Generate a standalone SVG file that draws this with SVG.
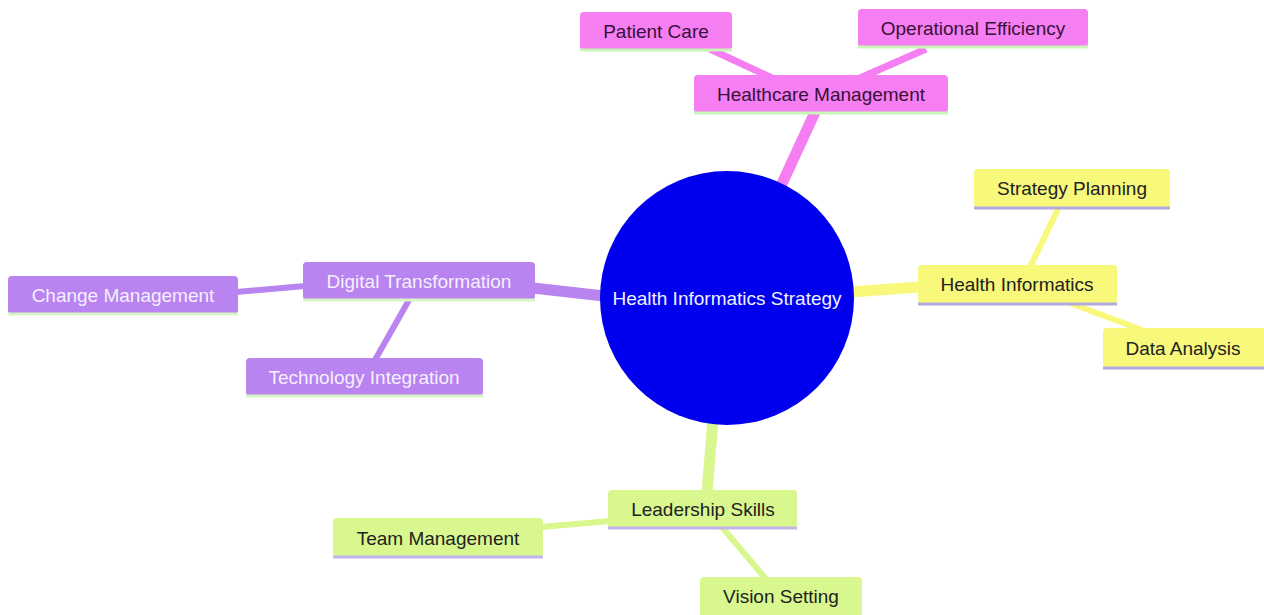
<svg xmlns="http://www.w3.org/2000/svg" width="1264" height="615" viewBox="0 0 1264 615">
<style>
text{font-family:"Liberation Sans",Arial,sans-serif;font-size:19px;text-anchor:middle;dominant-baseline:central}
.e{fill:none;stroke-linecap:butt}
.pk rect{fill:#f47ef2}.pk line{stroke:#c8f5b8}.pk text{fill:#3a1038}
.yl rect{fill:#f8f87a}.yl line{stroke:#b4a8e0}.yl text{fill:#222}
.pu rect{fill:#b983f0}.pu line{stroke:#d8f5c8}.pu text{fill:#f4f0ff}
.lm rect{fill:#d8f78e}.lm line{stroke:#c4b4ec}.lm text{fill:#222}
.n line{stroke-width:3}
</style>
<rect width="1264" height="615" fill="#ffffff"/>
<g id="connectors">
<line class="e" x1="780" y1="188" x2="816" y2="110" stroke="#f47ef2" stroke-width="11"/>
<line class="e" x1="772" y1="78" x2="710" y2="49" stroke="#f47ef2" stroke-width="7"/>
<line class="e" x1="860" y1="78" x2="926" y2="49" stroke="#f47ef2" stroke-width="7"/>
<line class="e" x1="850" y1="292" x2="920" y2="287" stroke="#f8f87a" stroke-width="11"/>
<line class="e" x1="1030" y1="267" x2="1059" y2="207" stroke="#f8f87a" stroke-width="6"/>
<line class="e" x1="1070" y1="303" x2="1142" y2="330" stroke="#f8f87a" stroke-width="6"/>
<line class="e" x1="533" y1="288" x2="604" y2="296" stroke="#b983f0" stroke-width="11"/>
<line class="e" x1="236" y1="292" x2="305" y2="286" stroke="#b983f0" stroke-width="6"/>
<line class="e" x1="409" y1="300" x2="375" y2="360" stroke="#b983f0" stroke-width="6"/>
<line class="e" x1="713" y1="420" x2="707" y2="492" stroke="#d8f78e" stroke-width="11"/>
<line class="e" x1="541" y1="527" x2="610" y2="521" stroke="#d8f78e" stroke-width="6"/>
<line class="e" x1="721" y1="526" x2="766" y2="579" stroke="#d8f78e" stroke-width="6"/>
</g>
<g id="root"><circle cx="727" cy="298" r="127" fill="#0000ee"/><text x="727" y="298" fill="#f0f0ff">Health Informatics Strategy</text></g>
<g id="healthcare-management" class="n pk"><rect x="694" y="75" width="254" height="38" rx="4"/><line x1="694" y1="113" x2="948" y2="113"/><text x="821" y="94">Healthcare Management</text></g>
<g id="patient-care" class="n pk"><rect x="580" y="12" width="152" height="38" rx="4"/><line x1="580" y1="50" x2="732" y2="50"/><text x="656" y="31">Patient Care</text></g>
<g id="operational-efficiency" class="n pk"><rect x="858" y="9" width="230" height="38" rx="4"/><line x1="858" y1="47" x2="1088" y2="47"/><text x="973" y="28">Operational Efficiency</text></g>
<g id="health-informatics" class="n yl"><rect x="918" y="265" width="199" height="39" rx="4"/><line x1="918" y1="304" x2="1117" y2="304"/><text x="1017" y="284">Health Informatics</text></g>
<g id="strategy-planning" class="n yl"><rect x="974" y="169" width="196" height="39" rx="4"/><line x1="974" y1="208" x2="1170" y2="208"/><text x="1072" y="188">Strategy Planning</text></g>
<g id="data-analysis" class="n yl"><rect x="1103" y="328" width="165" height="40" rx="4"/><line x1="1103" y1="368" x2="1264" y2="368"/><text x="1183" y="348">Data Analysis</text></g>
<g id="digital-transformation" class="n pu"><rect x="303" y="262" width="232" height="38" rx="4"/><line x1="303" y1="300" x2="535" y2="300"/><text x="419" y="281">Digital Transformation</text></g>
<g id="change-management" class="n pu"><rect x="8" y="276" width="230" height="38" rx="4"/><line x1="8" y1="314" x2="238" y2="314"/><text x="123" y="295">Change Management</text></g>
<g id="technology-integration" class="n pu"><rect x="246" y="358" width="237" height="38" rx="4"/><line x1="246" y1="396" x2="483" y2="396"/><text x="364" y="377">Technology Integration</text></g>
<g id="leadership-skills" class="n lm"><rect x="608" y="490" width="189" height="38" rx="4"/><line x1="608" y1="528" x2="797" y2="528"/><text x="703" y="509">Leadership Skills</text></g>
<g id="team-management" class="n lm"><rect x="333" y="518" width="210" height="39" rx="4"/><line x1="333" y1="557" x2="543" y2="557"/><text x="438" y="538">Team Management</text></g>
<g id="vision-setting" class="n lm"><rect x="700" y="577" width="162" height="40" rx="4"/><line x1="700" y1="617" x2="862" y2="617"/><text x="781" y="596">Vision Setting</text></g>
</svg>
